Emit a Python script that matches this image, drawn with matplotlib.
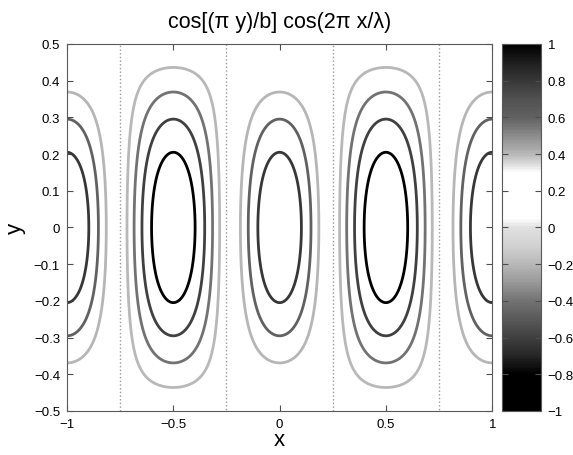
#!/usr/bin/env python3

# Import special modules ...
import matplotlib
matplotlib.use("Agg")
import matplotlib.pyplot
import matplotlib.colors
import matplotlib.cm
import numpy

# Parameters of the field cos[(pi y)/b] cos(2 pi x/lambda) ...
b = 1.0
lam = 1.0
xlims = [-1.0, 1.0]
ylims = [-0.5, 0.5]
levels = [-0.8, -0.6, -0.4, -0.2, 0.2, 0.4, 0.6, 0.8]
zeroLevel = [0.0]
xticks = [-1, -0.5, 0, 0.5, 1]
yticks = [-0.5, -0.4, -0.3, -0.2, -0.1, 0, 0.1, 0.2, 0.3, 0.4, 0.5]
cticks = [-1, -0.8, -0.6, -0.4, -0.2, 0, 0.2, 0.4, 0.6, 0.8, 1]

# Grey-level colour map (value, grey) ...
cmapPos = [-1.0, -0.8, -0.7, -0.6, -0.5, -0.4, -0.3, -0.2, -0.1, 0.0, 0.05, 0.3, 0.35, 0.4, 0.5, 0.6, 0.7, 0.8, 0.9, 1.0]
cmapGry = [0.0, 0.0, 0.15, 0.25, 0.35, 0.45, 0.6, 0.72, 0.82, 0.88, 1.0, 1.0, 0.85, 0.72, 0.55, 0.38, 0.32, 0.22, 0.12, 0.0]

cmap = matplotlib.colors.LinearSegmentedColormap.from_list(
    "greys",
    [((p + 1.0) / 2.0, (g, g, g)) for p, g in zip(cmapPos, cmapGry)],
)
norm = matplotlib.colors.Normalize(vmin = -1.0, vmax = 1.0)

# Build field ...
x = numpy.linspace(xlims[0], xlims[1], 401)
y = numpy.linspace(ylims[0], ylims[1], 201)
X, Y = numpy.meshgrid(x, y)
Z = numpy.cos(numpy.pi * Y / b) * numpy.cos(2.0 * numpy.pi * X / lam)

matplotlib.pyplot.rcParams["font.family"] = ["Liberation Sans", "DejaVu Sans"]

# Create figure ...
fg = matplotlib.pyplot.figure(figsize = (5.73, 4.56), dpi = 100)
ax = fg.add_axes([0.117, 0.0965, 0.742, 0.805])
cax = fg.add_axes([0.876, 0.0965, 0.068, 0.805])

ax.contour(X, Y, Z, levels = levels, cmap = cmap, norm = norm, linewidths = 2.0)
ax.contour(X, Y, Z, levels = zeroLevel, colors = "0.6", linewidths = 1.0, linestyles = ":")

# Configure axis ...
ax.set_xlim(xlims)
ax.set_ylim(ylims)
ax.set_xticks(xticks)
ax.set_yticks(yticks)
ax.set_xticklabels([f"{t:g}".replace("-", "\u2212") for t in xticks])
ax.set_yticklabels([f"{t:g}".replace("-", "\u2212") for t in yticks])
ax.tick_params(direction = "in", top = True, right = True, labelsize = 9.5, length = 4, pad = 5, color = "0.3")
ax.set_xlabel("x", fontsize = 16, labelpad = -1)
ax.set_ylabel("y", fontsize = 16, labelpad = 6)
ax.set_title("cos[(\u03c0 y)/b] cos(2\u03c0 x/\u03bb)", fontsize = 15.5, pad = 12)
for sp in ax.spines.values():
    sp.set_color("0.35")

# Configure colour bar ...
sm = matplotlib.cm.ScalarMappable(norm = norm, cmap = cmap)
cb = fg.colorbar(sm, cax = cax, ticks = cticks)
cb.ax.set_yticklabels([f"{t:g}".replace("-", "\u2212") for t in cticks])
cb.ax.tick_params(direction = "in", left = True, right = True, labelsize = 9.5, length = 4, pad = 5, color = "0.3")
cb.outline.set_edgecolor("0.35")

# Save figure ...
fg.savefig("out.png", dpi = 100)
matplotlib.pyplot.close(fg)
